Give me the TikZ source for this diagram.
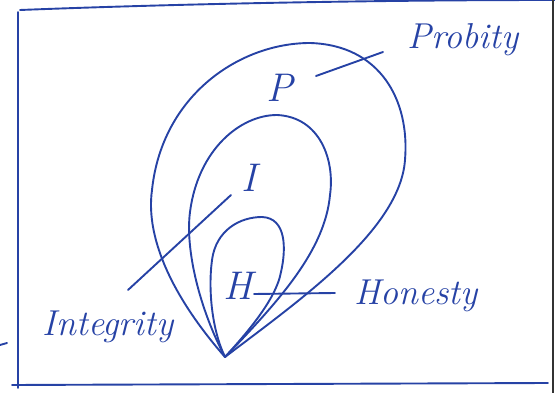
\documentclass[tikz,border=0pt]{standalone}
\usepackage{tikz}
\definecolor{ink}{RGB}{38,66,165}
\begin{document}
\begin{tikzpicture}[x=1pt,y=-1pt,
  pen/.style={draw=ink,line width=1.9pt,line cap=round,line join=round},
  lbl/.style={text=ink,font=\itshape\fontsize{36}{38}\selectfont,inner sep=0pt},
  letter/.style={text=ink,font=\itshape\fontsize{40}{42}\selectfont,inner sep=1pt}]
\useasboundingbox (0,0) rectangle (555,393);
% frame
\coordinate (f1) at (18,12);
\coordinate (f2) at (18,388);
\coordinate (f3) at (20,10);
\coordinate (f4) at (555,0);
\coordinate (f5) at (12,385);
\coordinate (f6) at (548,383);
\coordinate (f7) at (553,0);
\coordinate (f8) at (553,393);
\coordinate (t1) at (0,345);
\coordinate (t2) at (7,343);
\draw[pen] (f1) -- (f2);
\draw[pen] (f3) .. controls (200,3) and (400,0) .. (f4);
\draw[pen] (f5) -- (f6);
\draw[draw=black!80,line width=1.4pt] (f7) -- (f8);
\draw[pen] (t1) -- (t2);
% loops
\coordinate (A) at (225,357);
\draw[pen] (A) .. controls (175,300) and (145,240) .. (152,190)
  .. controls (162,95) and (240,43) .. (310,43)
  .. controls (380,45) and (410,100) .. (405,160)
  .. controls (400,230) and (300,300) .. (A);
\draw[pen] (A) .. controls (200,310) and (185,250) .. (190,212)
  .. controls (198,150) and (240,115) .. (277,115)
  .. controls (320,117) and (335,160) .. (330,195)
  .. controls (325,250) and (280,300) .. (A);
\draw[pen] (A) .. controls (212,330) and (208,290) .. (212,260)
  .. controls (216,230) and (240,217) .. (262,217)
  .. controls (287,218) and (286,250) .. (281,272)
  .. controls (276,300) and (245,335) .. (A);
% letters
\node[letter] (p) at (280,88) {P};
\node[letter] (i) at (249,178) {I};
\node[letter] (h) at (238,286) {H};
% labels
\node[lbl] (probity) at (463,40) {Probity};
\node[lbl] (honesty) at (416,296) {Honesty};
\node[lbl] (integrity) at (108,327) {Integrity};
% leaders
\coordinate (pl1) at (316,76);
\coordinate (pl2) at (383,52);
\draw[pen] (pl1) -- (pl2);
\coordinate (il1) at (231,195);
\coordinate (il2) at (128,290);
\draw[pen] (il1) -- (il2);
\coordinate (hl1) at (254,294);
\coordinate (hl2) at (335,293);
\draw[pen] (hl1) -- (hl2);
\end{tikzpicture}
\end{document}
